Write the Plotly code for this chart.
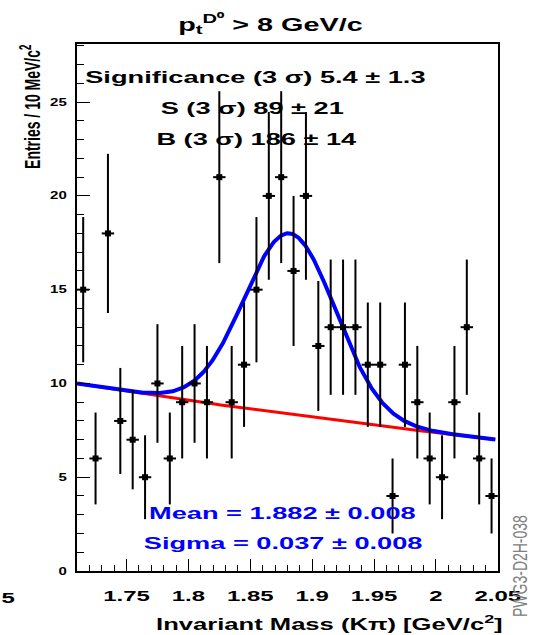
import json
import numpy as np
import plotly.graph_objects as go

# Kpi invariant mass histogram, 10 MeV/c^2 bins, pt(D0) > 8 GeV/c
mass_centers = [1.715, 1.725, 1.735, 1.745, 1.755, 1.765, 1.775, 1.785, 1.795, 1.805,
                1.815, 1.825, 1.835, 1.845, 1.855, 1.865, 1.875, 1.885, 1.895, 1.905,
                1.915, 1.925, 1.935, 1.945, 1.955, 1.965, 1.975, 1.985, 1.995, 2.005,
                2.015, 2.025, 2.035, 2.045]
entries = [15, 6, 18, 8, 7, 5, 10, 6, 9, 10,
           9, 21, 9, 11, 15, 20, 21, 16, 20, 12,
           13, 13, 13, 11, 11, 4, 11, 9, 6, 5,
           9, 13, 6, 4]
bin_half_width = 0.005

# fit: exponential background + gaussian signal
fit_mean = 1.882
fit_sigma = 0.037
gauss_amp = 9.65
bkg_at_low = 10.0
bkg_slope = -1.049
fit_range = [1.71, 2.048]

x_tickvals = [1.75, 1.8, 1.85, 1.9, 1.95, 2.0, 2.05]
x_ticktext = ["1.75", "1.8", "1.85", "1.9", "1.95", "2", "2.05"]
y_tickvals = [0, 5, 10, 15, 20, 25]
y_ticktext = ["0", "5", "10", "15", "20", "25"]

stats_lines = ["Significance (3 \u03c3) 5.4 \u00b1 1.3",
               "S (3 \u03c3) 89 \u00b1 21",
               "B (3 \u03c3) 186 \u00b1 14"]
fit_lines = ["Mean = 1.882 \u00b1 0.008",
             "Sigma = 0.037 \u00b1 0.008"]

errors = np.sqrt(np.array(entries, dtype=float))

xf = np.linspace(fit_range[0], fit_range[1], 500)
bkg = bkg_at_low * np.exp(bkg_slope * (xf - fit_range[0]))
total = bkg + gauss_amp * np.exp(-0.5 * ((xf - fit_mean) / fit_sigma) ** 2)

W, H = 535, 635
ML, MR, MT, MB = 77, 37, 44, 64
PW, PH = W - ML - MR, H - MT - MB
FONT = "Liberation Sans, Arial, Helvetica, sans-serif"


def px(x):
    return (x - ML) / PW


def py(y):
    return (H - MB - y) / PH


fig = go.Figure()
fig.add_trace(go.Scatter(x=xf, y=bkg, mode="lines",
                         line=dict(color="#ff0000", width=3), hoverinfo="skip"))
fig.add_trace(go.Scatter(x=xf, y=total, mode="lines",
                         line=dict(color="#0000ff", width=4), hoverinfo="skip"))
fig.add_trace(go.Scatter(
    x=mass_centers, y=entries, mode="markers",
    marker=dict(symbol="square", size=6, color="black"),
    error_y=dict(type="data", array=errors, color="black", thickness=2, width=0),
    error_x=dict(type="constant", value=bin_half_width, color="black", thickness=2, width=0),
))

ann = []
stretch = []


def add_text(text, x, y, size, color="black", bold=True, angle=0, sx=1.6, family=FONT):
    ann.append(dict(text=text, x=px(x), y=py(y), xref="paper", yref="paper",
                    xanchor="center", yanchor="middle", showarrow=False,
                    textangle=angle,
                    font=dict(family=family, size=size, color=color,
                              weight="bold" if bold else "normal")))
    stretch.append([1, sx] if angle else [sx, 1])


# title
add_text("p<sub>t</sub><sup>D\u2070</sup> > 8 GeV/c", 270, 24, 18)
# fit statistics
add_text(stats_lines[0], 255, 77, 17)
add_text(stats_lines[1], 252, 108, 17)
add_text(stats_lines[2], 256, 139, 17)
add_text(fit_lines[0], 282, 513, 17, color="#0000ff")
add_text(fit_lines[1], 283, 543, 17, color="#0000ff")
# axis titles
add_text("Entries / 10 MeV/c<sup>2</sup>", 31, 107, 14, angle=-90)
add_text("Invariant Mass (K\u03c0) [GeV/c<sup>2</sup>]", 329, 623, 16)
# side labels
add_text("PWG3-D2H-038", 520, 566, 14, color="#808080", bold=False, angle=-90, sx=1.4)
add_text("5", 8, 597, 15)

fig.update_layout(
    width=W, height=H,
    margin=dict(l=ML, r=MR, t=MT, b=MB),
    paper_bgcolor="white", plot_bgcolor="white",
    showlegend=False,
    annotations=ann,
    xaxis=dict(
        range=[1.71, 2.0502], showgrid=False, zeroline=False,
        showline=True, mirror=True, linecolor="black", linewidth=2,
        tickmode="array", tickvals=x_tickvals, ticktext=x_ticktext,
        ticks="inside", ticklen=12, tickwidth=1, tickcolor="black",
        ticklabelstandoff=10,
        tickfont=dict(family=FONT, size=15, color="black", weight="bold"),
        minor=dict(ticks="inside", ticklen=6, tickwidth=1, tickcolor="black",
                   dtick=0.01, tick0=1.71, showgrid=False),
    ),
    yaxis=dict(
        range=[0, 28.1], showgrid=False, zeroline=False,
        showline=True, mirror=True, linecolor="black", linewidth=2,
        tickmode="array", tickvals=y_tickvals, ticktext=y_ticktext,
        ticks="inside", ticklen=13, tickwidth=1, tickcolor="black",
        ticklabelstandoff=6,
        tickfont=dict(family=FONT, size=10, color="black", weight="bold"),
        minor=dict(ticks="inside", ticklen=7, tickwidth=1, tickcolor="black",
                   dtick=1, tick0=0, showgrid=False),
    ),
)

# Widen the lettering horizontally (Helvetica-style wide rendering)
post_js = """
document.body.style.margin = '0';
var gd = document.getElementById('{plot_id}');
var annStretch = %s;
function widen(el, sx, sy, mode) {
  var b = el.getBBox();
  var cx = mode === 'end' ? b.x + b.width : b.x + b.width / 2;
  var cy = b.y + b.height / 2;
  var t = el.getAttribute('transform') || '';
  el.setAttribute('transform', t + ' translate(' + cx + ',' + cy + ') scale(' + sx + ',' + sy +
                  ') translate(' + (-cx) + ',' + (-cy) + ')');
}
gd.querySelectorAll('.xtick text').forEach(function (el) { widen(el, 1.6, 1, 'mid'); });
gd.querySelectorAll('.ytick text').forEach(function (el) { widen(el, 1.5, 1, 'end'); });
gd.querySelectorAll('.annotation-text').forEach(function (el, i) {
  var s = annStretch[i] || [1, 1];
  widen(el, s[0], s[1], 'mid');
});
""" % json.dumps(stretch)

fig.write_html("out.html", config={"displayModeBar": False}, post_script=post_js)
